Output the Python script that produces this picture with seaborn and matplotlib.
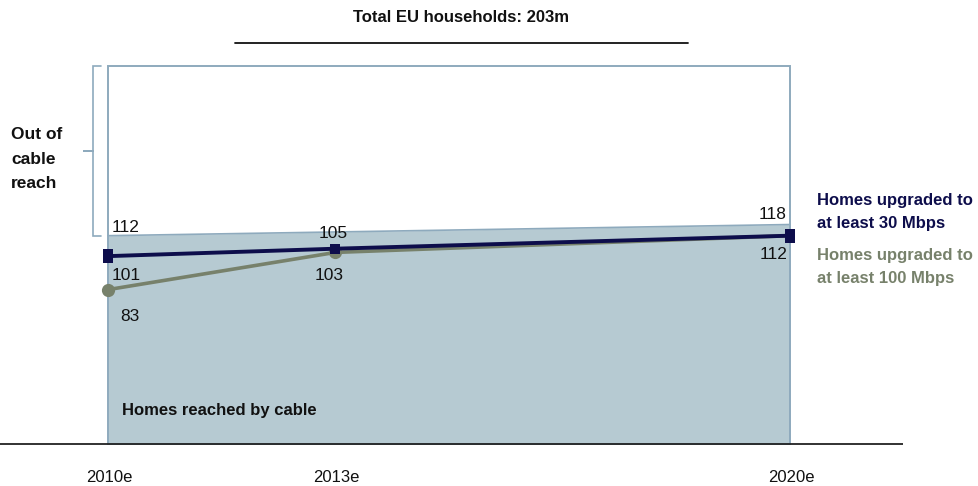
import matplotlib
matplotlib.use("Agg")
import matplotlib.pyplot as plt
from matplotlib.lines import Line2D
from matplotlib.patches import Rectangle
from matplotlib.path import Path
import pandas as pd
import seaborn as sns

# ---- data -------------------------------------------------------------
years = ["2010e", "2013e", "2020e"]
upgraded_30 = [101, 105, 112]
upgraded_100 = [83, 103, 112]
cable_years = ["2010e", "2020e"]
cable_reach = [112, 118]
total_households = 203

series_30 = "Homes upgraded to\nat least 30 Mbps"
series_100 = "Homes upgraded to\nat least 100 Mbps"

# horizontal slots: 2020e sits three slots after 2010e
slot = {"2010e": 0, "2013e": 1, "2020e": 3}

# ---- style ------------------------------------------------------------
sns.set_theme(style="white")
plt.rcParams["font.family"] = ["Liberation Sans", "DejaVu Sans"]

NAVY = "#0d0d4b"
SAGE = "#77816b"
FILL = "#b6cad2"
EDGE = "#8eaabd"
INK = "#111111"

W, H = 979, 486
fig = plt.figure(figsize=(W / 100, H / 100), dpi=100)
ax = fig.add_axes([0, 0, 1, 1])

# pixel layout: slot 0 at x=108, 227.3 px per slot; value 0 at y=444, 1.86 px per unit
PX_SLOT, X0 = 227.3, 108
PX_UNIT, Y0 = 1.86, 444
ax.set_xlim(-X0 / PX_SLOT, (W - X0) / PX_SLOT)
ax.set_ylim(-(H - Y0) / PX_UNIT, Y0 / PX_UNIT)
ax.set_axis_off()


def px_x(px):
    return (px - X0) / PX_SLOT


def px_y(py):
    return (Y0 - py) / PX_UNIT


def fx(px):
    return px / W


def fy(py):
    return 1 - py / H


df = pd.DataFrame({
    "year": years * 2,
    "value": upgraded_30 + upgraded_100,
    "series": [series_30] * len(years) + [series_100] * len(years),
})
df["x"] = df["year"].map(slot)
d30 = df[df["series"] == series_30]
d100 = df[df["series"] == series_100]

# homes reached by cable (area) and total households frame
cx = [slot[y] for y in cable_years]
ax.fill_between(cx, 0, cable_reach, color=FILL, lw=0, zorder=1)
ax.plot(cx, cable_reach, color=EDGE, lw=1.2, zorder=1.5)
ax.add_patch(Rectangle((0, 0), slot["2020e"], total_households, fill=False,
                       edgecolor=EDGE, lw=1.4, zorder=1.6))

# baseline
ax.plot([px_x(0), px_x(903)], [0, 0], color="#222222", lw=1.3, zorder=2,
        solid_capstyle="butt")

# upgrade lines
sns.lineplot(data=d100, x="x", y="value", color=SAGE, lw=2.6, marker="o",
             markersize=9.5, markeredgewidth=0, markevery=[0, 1], ax=ax,
             zorder=3, legend=False)
sns.lineplot(data=d30, x="x", y="value", color=NAVY, lw=2.8, marker="s",
             markersize=7.5, markeredgewidth=0, markevery=[1], ax=ax,
             zorder=4, legend=False)
bar_marker = Path([(-0.35, -0.5), (0.35, -0.5), (0.35, 0.5), (-0.35, 0.5), (-0.35, -0.5)],
                  closed=True)
ends = d30.iloc[[0, -1]]
ax.plot(ends["x"], ends["value"], ls="none", marker=bar_marker, markersize=10,
        color=NAVY, markeredgewidth=0, zorder=4)

# value labels
num_kw = dict(textcoords="offset pixels", fontsize=12.5, color=INK, zorder=6)
ax.annotate(f"{cable_reach[0]}", (cx[0], cable_reach[0]), (4, 1), ha="left", va="bottom", **num_kw)
ax.annotate(f"{cable_reach[1]}", (cx[1], cable_reach[1]), (-3, 3), ha="right", va="bottom", **num_kw)
x30 = d30["x"].tolist()
x100 = d100["x"].tolist()
ax.annotate(f"{upgraded_30[0]}", (x30[0], upgraded_30[0]), (18, -19), ha="center", va="center", **num_kw)
ax.annotate(f"{upgraded_30[1]}", (x30[1], upgraded_30[1]), (-2, 15), ha="center", va="center", **num_kw)
ax.annotate(f"{upgraded_30[2]}", (x30[2], upgraded_30[2]), (-2, -19), ha="right", va="center", **num_kw)
ax.annotate(f"{upgraded_100[0]}", (x100[0], upgraded_100[0]), (22, -27), ha="center", va="center", **num_kw)
ax.annotate(f"{upgraded_100[1]}", (x100[1], upgraded_100[1]), (-6, -23), ha="center", va="center", **num_kw)

# brace marking the households out of cable reach
bx, tip, out = px_x(93), px_x(101), px_x(83)
top, bot = total_households, cable_reach[0]
mid = (top + bot) / 2
ax.plot([tip, bx, bx, out, bx, bx, tip], [top, top, mid, mid, mid, bot, bot],
        color=EDGE, lw=1.2, zorder=2, solid_joinstyle="miter")

# category labels
for y in years:
    ax.text(slot[y] + 0.005, px_y(477), y, ha="center", va="center",
            fontsize=12, color=INK)

# annotations
fig.text(fx(461), fy(17), f"Total EU households: {total_households}m", ha="center",
         va="center", fontsize=12, fontweight="bold", color=INK)
fig.add_artist(Line2D([fx(235), fx(688)], [fy(43), fy(43)], color=INK, lw=1.3))
fig.text(fx(11), fy(159), "Out of\ncable\nreach", ha="left", va="center", fontsize=12.5,
         fontweight="bold", color=INK, linespacing=1.8)
ax.text(px_x(122), px_y(410), "Homes reached by cable", ha="left",
        va="center", fontsize=12, fontweight="bold", color=INK, zorder=6)
fig.text(fx(817), fy(212), series_30, ha="left", va="center", fontsize=12,
         fontweight="bold", color=NAVY, linespacing=1.62)
fig.text(fx(817), fy(267), series_100, ha="left", va="center", fontsize=12,
         fontweight="bold", color=SAGE, linespacing=1.62)

fig.savefig("out.png", dpi=100)
